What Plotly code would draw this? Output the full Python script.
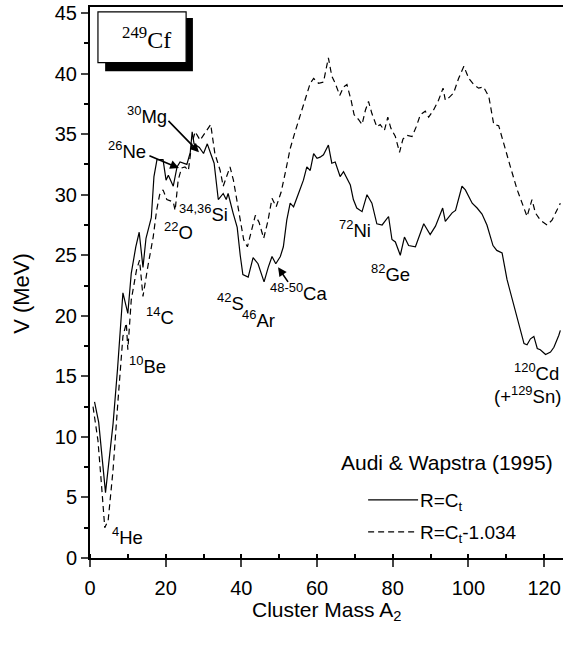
import plotly.graph_objects as go

# Solid curve: R = C_t
A_solid = [1.2, 2.3, 4.1, 6.1, 7.3, 8.7, 10.0, 10.9, 12.1, 13.0, 14.0, 14.8, 16.2, 16.9, 17.7,
           19.3, 20.1, 20.7, 22.0, 23.0, 23.8, 25.6, 26.5, 27.0, 27.5, 28.9, 30.0, 31.0, 32.0,
           32.8, 33.9, 35.2, 36.0, 36.5, 37.8, 38.9, 39.7, 40.4, 41.8, 43.1, 44.4, 46.0, 47.1,
           48.1, 49.1, 50.3, 51.1, 52.0, 52.9, 53.8, 55.1, 56.4, 57.3, 58.2, 59.1, 60.0, 60.8,
           61.7, 63.0, 63.9, 64.8, 66.1, 67.0, 68.8, 69.6, 70.5, 71.9, 73.2, 74.5, 75.8, 77.2,
           78.9, 79.8, 80.7, 82.0, 83.1, 84.2, 86.0, 88.2, 89.9, 91.3, 93.2, 93.9, 95.7, 96.6,
           98.3, 99.2, 101.0, 102.3, 103.6, 104.9, 106.5, 107.5, 108.9, 110.2, 111.6, 112.9,
           113.8, 114.7, 115.5, 116.4, 117.3, 118.2, 119.0, 120.4, 121.7, 122.6, 123.9, 124.3]
V_solid = [12.9, 11.2, 5.4, 11.1, 15.7, 21.9, 20.2, 23.5, 25.7, 26.9, 24.0, 26.4, 28.1, 31.5, 32.9,
           32.9, 31.2, 31.6, 30.7, 32.3, 32.7, 32.5, 33.5, 35.2, 34.2, 33.9, 33.4, 34.2, 33.3,
           32.6, 29.6, 30.1, 29.6, 30.1, 28.5, 27.3, 25.0, 23.4, 23.2, 24.8, 24.3, 22.8, 24.0,
           24.9, 24.3, 24.9, 25.7, 27.9, 29.3, 29.0, 30.1, 31.2, 32.3, 32.0, 33.4, 33.0, 33.1,
           33.3, 34.1, 32.6, 32.7, 31.5, 31.9, 30.8, 29.6, 28.9, 28.6, 30.0, 29.3, 27.6, 27.5,
           28.2, 26.3, 26.1, 25.0, 26.5, 25.8, 25.7, 27.6, 26.7, 27.4, 28.9, 27.8, 28.5, 28.7,
           30.7, 30.4, 29.3, 28.9, 28.4, 27.5, 25.8, 25.4, 25.2, 23.0, 21.3, 19.9,
           18.8, 17.7, 17.6, 18.1, 18.3, 17.3, 17.2, 16.8, 17.0, 17.4, 18.4, 18.8]

# Dashed curve: R = C_t - 1.034
A_dash = [0.8, 2.1, 3.0, 3.9, 4.8, 6.1, 7.4, 8.7, 9.6, 10.0, 10.9, 12.3, 13.1, 14.0, 15.3, 16.7,
          17.6, 18.4, 19.3, 20.3, 22.0, 22.5, 23.3, 24.2, 25.1, 26.0, 26.9, 27.8, 29.1, 30.4,
          31.9, 33.0, 34.4, 35.2, 36.2, 37.0, 37.9, 38.8, 39.7, 40.6, 41.6, 42.5, 43.7, 44.7,
          45.9, 47.0, 48.1, 49.2, 50.5, 51.6, 52.9, 54.2, 55.6, 56.9, 58.2, 59.1, 60.4, 61.7,
          63.0, 63.9, 64.8, 66.0, 67.0, 67.9, 69.0, 69.8, 71.0, 71.9, 72.8, 73.6, 74.5, 75.8,
          76.7, 77.8, 78.7, 79.5, 80.7, 81.8, 82.7, 83.8, 85.1, 86.2, 87.3, 88.6, 89.5, 90.8,
          92.1, 93.3, 93.9, 94.8, 96.1, 97.4, 98.8, 100.1, 101.4, 102.7, 104.0, 105.4, 106.7,
          108.0, 109.3, 111.1, 112.9, 114.2, 115.5, 116.8, 117.7, 119.0, 120.8, 122.1, 123.4, 124.3]
V_dash = [12.5, 9.7, 6.2, 2.5, 3.1, 7.3, 13.0, 18.3, 19.4, 17.2, 21.3, 23.8, 24.6, 21.6, 24.1, 26.5,
          28.7, 30.0, 30.4, 29.6, 29.4, 28.7, 31.2, 32.2, 32.3, 32.0, 34.2, 35.2, 34.5, 35.1,
          35.8, 33.4, 32.0, 30.7, 31.5, 32.3, 31.2, 29.6, 27.9, 26.3, 25.7, 26.8, 28.3, 27.7,
          26.4, 27.8, 29.7, 29.0, 30.2, 31.8, 33.8, 35.2, 36.6, 38.1, 39.2, 39.6, 39.2, 39.3,
          41.3, 39.8, 39.2, 38.2, 38.9, 39.1, 37.8, 36.6, 36.2, 35.8, 37.0, 37.7, 36.7, 35.6,
          35.8, 35.3, 36.4, 35.5, 34.8, 33.5, 34.6, 34.9, 34.8, 35.6, 36.6, 36.9, 36.4, 37.0,
          37.8, 38.8, 37.8, 38.0, 38.4, 39.6, 40.6, 39.6, 39.1, 38.8, 38.9, 38.1, 35.8,
          35.7, 34.2, 32.3, 30.4, 29.3, 28.2, 29.6, 28.5, 27.9, 27.5, 27.9, 28.7, 29.3]

x_ticks = [0, 20, 40, 60, 80, 100, 120]
y_ticks = [0, 5, 10, 15, 20, 25, 30, 35, 40, 45]

FONT = "Liberation Sans, Arial, sans-serif"
SERIF = "Liberation Serif, Times New Roman, serif"

fig = go.Figure()
fig.add_trace(go.Scatter(x=A_solid, y=V_solid, mode="lines",
                         line=dict(color="black", width=1.2), name="R=C<sub>t</sub>"))
fig.add_trace(go.Scatter(x=A_dash, y=V_dash, mode="lines",
                         line=dict(color="black", width=1.2, dash="6px,4px"),
                         name="R=C<sub>t</sub>-1.034"))

labels = [
    ("<sup>30</sup>Mg", 15.1, 36.6),
    ("<sup>26</sup>Ne", 9.8, 33.7),
    ("<sup>34,36</sup>Si", 30.1, 28.5),
    ("<sup>22</sup>O", 23.3, 27.0),
    ("<sup>14</sup>C", 18.5, 20.0),
    ("<sup>10</sup>Be", 15.1, 15.9),
    ("<sup>4</sup>He", 9.8, 1.8),
    ("<sup>42</sup>S", 37.0, 21.1),
    ("<sup>46</sup>Ar", 44.4, 19.7),
    ("<sup>48-50</sup>Ca", 55.0, 22.0),
    ("<sup>72</sup>Ni", 70.0, 27.2),
    ("<sup>82</sup>Ge", 79.5, 23.5),
    ("<sup>120</sup>Cd", 117.9, 15.4),
    ("(+<sup>129</sup>Sn)", 115.5, 13.5),
]
ann = []
for t, x, y in labels:
    ann.append(dict(text=t, x=x, y=y, xref="x", yref="y", showarrow=False,
                    font=dict(family=FONT, size=18.5, color="black")))

# arrows (head on curve, tail offset in px)
for x, y, ax, ay in [(28.8, 33.5, -32, -33), (23.5, 32.2, -31, -13), (49.7, 24.0, 11, 16)]:
    ann.append(dict(text="", x=x, y=y, xref="x", yref="y", ax=ax, ay=ay,
                    showarrow=True, arrowhead=2, arrowsize=1.1, arrowwidth=1.6,
                    arrowcolor="black"))

ann.append(dict(text="Audi & Wapstra (1995)", x=94.3, y=7.9, xref="x", yref="y",
                showarrow=False, font=dict(family=FONT, size=21, color="black")))
ann.append(dict(text="R=C<sub>t</sub>", x=86.7, y=4.6, xref="x", yref="y", xanchor="left",
                showarrow=False, font=dict(family=FONT, size=19, color="black")))
ann.append(dict(text="R=C<sub>t</sub>-1.034", x=86.7, y=1.95, xref="x", yref="y", xanchor="left",
                showarrow=False, font=dict(family=FONT, size=19, color="black")))
ann.append(dict(text="<sup>249</sup>Cf", x=15.0, y=42.9, xref="x", yref="y",
                showarrow=False, font=dict(family=SERIF, size=24, color="black")))
# axis titles
ann.append(dict(text="V (MeV)", x=-0.144, y=0.481, xref="paper", yref="paper", textangle=-90,
                xanchor="center", yanchor="middle",
                showarrow=False, font=dict(family=FONT, size=22, color="black")))
ann.append(dict(text="Cluster Mass A<sub>2</sub>", x=0.5, y=-0.096, xref="paper", yref="paper",
                xanchor="center", yanchor="middle",
                showarrow=False, font=dict(family=FONT, size=21, color="black")))

shapes = [
    dict(type="rect", x0=4.0, x1=27.2, y0=40.2, y1=44.6, xref="x", yref="y",
         fillcolor="black", line=dict(width=0)),
    dict(type="rect", x0=2.1, x1=25.4, y0=40.9, y1=45.1, xref="x", yref="y",
         fillcolor="white", line=dict(color="black", width=1.2)),
    dict(type="line", x0=73.5, x1=86.7, y0=4.8, y1=4.8, xref="x", yref="y",
         line=dict(color="black", width=1.2)),
    dict(type="line", x0=73.5, x1=86.7, y0=2.15, y1=2.15, xref="x", yref="y",
         line=dict(color="black", width=1.2, dash="6px,4px")),
]

fig.update_layout(
    width=564, height=645,
    margin=dict(l=90, r=1, t=7, b=87),
    paper_bgcolor="white", plot_bgcolor="white",
    showlegend=False,
    annotations=ann, shapes=shapes,
    font=dict(family=FONT, color="black"),
)
fig.update_xaxes(range=[0, 125], tickvals=x_ticks, ticks="outside", ticklen=7, tickwidth=2,
                 showline=True, linewidth=2, linecolor="black", mirror=True,
                 showgrid=False, zeroline=False, tickfont=dict(size=20, family=FONT),
                 ticklabelstandoff=4,
                 minor=dict(dtick=10, tick0=0, ticks="inside", ticklen=4, tickwidth=1.5,
                            tickcolor="black", showgrid=False))
fig.update_yaxes(range=[0, 45.5], tickvals=y_ticks, ticks="outside", ticklen=7, tickwidth=2,
                 showline=True, linewidth=2, linecolor="black",
                 showgrid=False, zeroline=False, tickfont=dict(size=20, family=FONT),
                 minor=dict(dtick=2.5, tick0=0, ticks="outside", ticklen=4, tickwidth=1.5,
                            tickcolor="black", showgrid=False))

fig.write_html("out.html")
